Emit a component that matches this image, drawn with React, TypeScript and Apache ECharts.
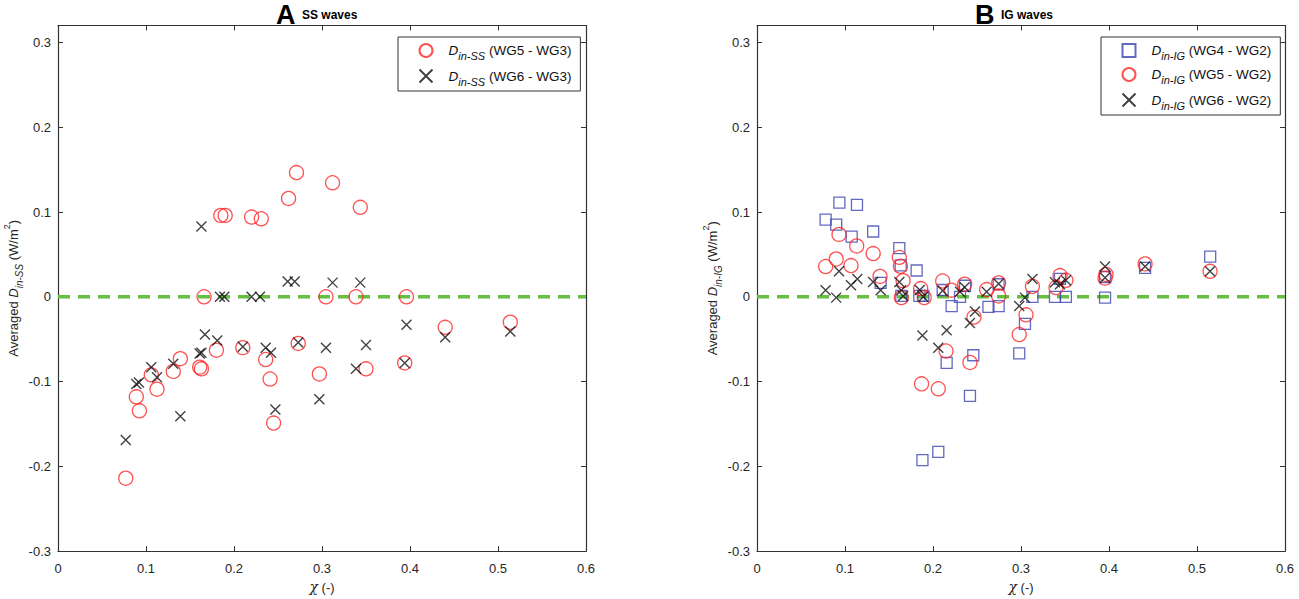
import React, { useEffect, useRef } from 'react';
import * as echarts from 'echarts';

// ---------- data ----------
const xTickValues = [0, 0.1, 0.2, 0.3, 0.4, 0.5, 0.6];
const yTickValues = [-0.3, -0.2, -0.1, 0, 0.1, 0.2, 0.3];

// Panel A: SS waves
const ssWG5: [number, number][] = [
  [0.077, -0.214], [0.089, -0.118], [0.0925, -0.1345], [0.106, -0.092], [0.1125, -0.109],
  [0.131, -0.088], [0.139, -0.073], [0.161, -0.083], [0.163, -0.085], [0.166, 0],
  [0.18, -0.063], [0.185, 0.096], [0.19, 0.096], [0.21, -0.06], [0.22, 0.094],
  [0.231, 0.092], [0.236, -0.074], [0.241, -0.097], [0.245, -0.149], [0.262, 0.116],
  [0.271, 0.1465], [0.273, -0.055], [0.297, -0.091], [0.3045, 0], [0.312, 0.1345],
  [0.3386, 0], [0.3435, 0.1055], [0.35, -0.085], [0.394, -0.078], [0.396, 0],
  [0.44, -0.036], [0.514, -0.03],
];
const ssWG6: [number, number][] = [
  [0.077, -0.169], [0.089, -0.103], [0.092, -0.101], [0.106, -0.083], [0.1125, -0.095],
  [0.131, -0.079], [0.139, -0.141], [0.161, -0.067], [0.163, -0.066], [0.163, 0.083],
  [0.167, -0.0445], [0.181, -0.0515], [0.184, 0], [0.189, 0], [0.21, -0.059],
  [0.22, 0], [0.2295, 0], [0.236, -0.06], [0.242, -0.066], [0.247, -0.133],
  [0.261, 0.018], [0.269, 0.018], [0.273, -0.054], [0.297, -0.121], [0.3045, -0.06],
  [0.312, 0.0167], [0.3386, -0.085], [0.3435, 0.0167], [0.35, -0.057], [0.394, -0.078],
  [0.396, -0.033], [0.44, -0.0477], [0.514, -0.041],
];

// Panel B: IG waves
const igWG4: [number, number][] = [
  [0.078, 0.091], [0.09, 0.085], [0.0936, 0.111], [0.1076, 0.071], [0.1136, 0.1085],
  [0.132, 0.077], [0.1405, 0.0163], [0.1617, 0.0574], [0.1633, 0.037], [0.164, 0.001],
  [0.1814, 0.031], [0.1845, 0.001], [0.189, 0.001], [0.188, -0.1926], [0.206, -0.183],
  [0.211, 0.008], [0.2155, -0.078], [0.2212, -0.011], [0.2307, 0], [0.2364, 0.013],
  [0.242, -0.117], [0.2458, -0.069], [0.263, -0.012], [0.2746, 0.0148], [0.2746, -0.011],
  [0.298, -0.0667], [0.3045, -0.032], [0.313, 0], [0.3386, 0], [0.3443, 0.021],
  [0.351, 0], [0.3955, 0.0233], [0.3955, -0.001], [0.441, 0.034], [0.515, 0.0473],
];
const igWG5: [number, number][] = [
  [0.078, 0.0357], [0.09, 0.0446], [0.0932, 0.0736], [0.1068, 0.0368], [0.1133, 0.06],
  [0.132, 0.051], [0.1398, 0.024], [0.1617, 0.0465], [0.163, 0.036], [0.166, 0.019],
  [0.164, -0.001], [0.186, 0.0097], [0.19, -0.001], [0.187, -0.1027], [0.206, -0.1085],
  [0.211, 0.0186], [0.2148, -0.064], [0.221, 0.0078], [0.236, 0.0148], [0.242, -0.0775],
  [0.2466, -0.024], [0.261, 0.0085], [0.2746, 0.0163], [0.2746, 0.001], [0.298, -0.0446],
  [0.3057, -0.0213], [0.313, 0.0124], [0.3398, 0.0108], [0.3443, 0.025], [0.351, 0.0194],
  [0.3966, 0.0264], [0.3955, 0.022], [0.441, 0.0388], [0.5148, 0.03],
];
const igWG6: [number, number][] = [
  [0.078, 0.0078], [0.09, -0.001], [0.0932, 0.03], [0.1068, 0.0136], [0.114, 0.021],
  [0.132, 0.0174], [0.1405, 0.0078], [0.1617, 0.0174], [0.164, 0.0078], [0.166, 0.001],
  [0.185, 0.008], [0.189, 0], [0.188, -0.0457], [0.206, -0.06], [0.211, 0.007],
  [0.2155, -0.0395], [0.2307, 0.006], [0.236, 0.0113], [0.242, -0.031], [0.2477, -0.0174],
  [0.261, 0.006], [0.2746, 0.0155], [0.298, -0.011], [0.3045, -0.001], [0.313, 0.021],
  [0.3386, 0.017], [0.3443, 0.0147], [0.351, 0.0194], [0.3955, 0.0357], [0.3955, 0.0225],
  [0.441, 0.0357], [0.5148, 0.03],
];

const zeroLine: [number, number][] = [[0, 0], [0.6, 0]];

const legendLabels: Record<string, string> = {
  ss5: '{w| }{i|D}{s|in-SS}{t| (WG5 - WG3)}',
  ss6: '{w| }{i|D}{s|in-SS}{t| (WG6 - WG3)}',
  ig4: '{w| }{i|D}{s|in-IG}{t| (WG4 - WG2)}',
  ig5: '{w| }{i|D}{s|in-IG}{t| (WG5 - WG2)}',
  ig6: '{w| }{i|D}{s|in-IG}{t| (WG6 - WG2)}',
};

// ---------- styling ----------
const FONT = '"Liberation Sans", Arial, sans-serif';
const AXIS = '#333333';
const TEXT = '#262626';
const RED = '#ff2424';
const BLUE = '#3a44b0';
const BLACK = '#111111';
const GREEN = '#66bf40';
const CROSS = 'path://M0 0L10 10M10 0L0 10';
const SQUARE = 'path://M0 0H10V10H0Z';

const xMin = xTickValues[0];
const xMax = xTickValues[xTickValues.length - 1];
const yMin = yTickValues[0];
const yMax = 0.32;

function tickFmt(v: number): string {
  const r = Math.round(v * 10) / 10;
  if (Math.abs(v - r) > 1e-6) return '';
  if (Math.abs(r) < 1e-9) return '0';
  return String(r);
}

const nameRich = {
  t: { fontSize: 13, fontFamily: FONT, color: TEXT, lineHeight: 22 },
  i: { fontSize: 13, fontFamily: FONT, color: TEXT, fontStyle: 'italic', lineHeight: 22 },
  s: { fontSize: 10, fontFamily: FONT, color: TEXT, fontStyle: 'italic', lineHeight: 10, verticalAlign: 'bottom' },
  p: { fontSize: 9, fontFamily: FONT, color: TEXT, lineHeight: 10, verticalAlign: 'top' },
  g: { fontSize: 14, fontFamily: '"DejaVu Serif", serif', color: TEXT, fontStyle: 'italic', lineHeight: 14 },
  x: { fontSize: 13, fontFamily: FONT, color: TEXT, lineHeight: 14 },
};

const legendRich = {
  w: { width: 11, fontSize: 13.5, lineHeight: 22 },
  t: { fontSize: 13.5, fontFamily: FONT, color: '#111', lineHeight: 22 },
  i: { fontSize: 13.5, fontFamily: FONT, color: '#111', fontStyle: 'italic', lineHeight: 22 },
  s: { fontSize: 11, fontFamily: FONT, color: '#111', fontStyle: 'italic', lineHeight: 10, verticalAlign: 'bottom' },
};

function xAxisFor(gridIndex: number, position: 'bottom' | 'top') {
  const bottom = position === 'bottom';
  return {
    type: 'value',
    gridIndex,
    position,
    min: xMin,
    max: xMax,
    interval: 0.1,
    axisLine: { show: true, onZero: false, lineStyle: { color: AXIS, width: 1.2 } },
    axisTick: { show: true, inside: true, length: 5, lineStyle: { color: AXIS, width: 1 } },
    axisLabel: bottom
      ? { show: true, margin: 11, fontSize: 13, fontFamily: FONT, color: TEXT, formatter: tickFmt }
      : { show: false },
    splitLine: { show: false },
    name: bottom ? '{g|χ}{x| (-)}' : '',
    nameLocation: 'middle',
    nameGap: 26,
    nameTextStyle: { rich: nameRich },
  };
}

function yAxisFor(gridIndex: number, position: 'left' | 'right', sub: string) {
  const left = position === 'left';
  return {
    type: 'value',
    gridIndex,
    position,
    min: yMin,
    max: yMax,
    interval: 0.1,
    axisLine: { show: true, onZero: false, lineStyle: { color: AXIS, width: 1.2 } },
    axisTick: { show: true, inside: true, length: 5, lineStyle: { color: AXIS, width: 1 } },
    axisLabel: left
      ? { show: true, margin: 7, fontSize: 13, fontFamily: FONT, color: TEXT, formatter: tickFmt }
      : { show: false },
    splitLine: { show: false },
    name: left ? `{t|Averaged }{i|D}{s|${sub}}{t| (W/m}{p|2}{t|)}` : '',
    nameLocation: 'middle',
    nameRotate: 90,
    nameGap: 34,
    nameTextStyle: { rich: nameRich },
  };
}

function circleSeries(name: string, data: [number, number][], axis: number) {
  return {
    name, type: 'scatter', xAxisIndex: axis, yAxisIndex: axis, data,
    symbol: 'circle', symbolSize: 14, z: 3,
    itemStyle: { color: 'rgba(0,0,0,0)', borderColor: RED, borderWidth: 1.3 },
  };
}
function crossSeries(name: string, data: [number, number][], axis: number) {
  return {
    name, type: 'scatter', xAxisIndex: axis, yAxisIndex: axis, data,
    symbol: CROSS, symbolSize: 10, z: 4,
    itemStyle: { color: 'none', borderColor: BLACK, borderWidth: 1.4 },
  };
}
function squareSeries(name: string, data: [number, number][], axis: number) {
  return {
    name, type: 'scatter', xAxisIndex: axis, yAxisIndex: axis, data,
    symbol: SQUARE, symbolSize: 11, z: 3,
    itemStyle: { color: 'rgba(0,0,0,0)', borderColor: BLUE, borderWidth: 1.3 },
  };
}
function zeroSeries(axis: number) {
  return {
    name: 'zero' + axis, type: 'line', xAxisIndex: axis, yAxisIndex: axis, data: zeroLine,
    symbol: 'none', silent: true, z: 1,
    lineStyle: { color: GREEN, width: 3.5, type: [12, 8] },
  };
}

function legendFor(left: number, names: string[]) {
  return {
    show: true,
    data: names,
    orient: 'vertical',
    left,
    top: 37,
    padding: [6, 9, 4, 19],
    itemWidth: 13,
    itemHeight: 13,
    itemGap: 5.5,
    selectedMode: false,
    symbolKeepAspect: false,
    borderColor: AXIS,
    borderWidth: 1,
    backgroundColor: '#ffffff',
    formatter: (n: string) => legendLabels[n] || n,
    textStyle: { fontSize: 13.5, fontFamily: FONT, color: '#111', rich: legendRich },
  };
}

function titleText(x: number, letter: string, rest: string) {
  return [
    {
      type: 'text', left: x, top: 1,
      style: { text: letter, font: `bold 27px ${FONT}`, fill: '#000' },
    },
    {
      type: 'text', left: x + 26, top: 9,
      style: { text: rest, font: `bold 12px ${FONT}`, fill: '#000' },
    },
  ];
}

const App: React.FC = () => {
  const ref = useRef<HTMLDivElement>(null);

  useEffect(() => {
    if (!ref.current) return;
    const chart = echarts.init(ref.current, undefined, { renderer: 'svg' });
    const option = {
      animation: false,
      backgroundColor: '#ffffff',
      grid: [
        { left: 58, top: 25.5, width: 528, height: 531.5, containLabel: false },
        { left: 757, top: 25.5, width: 528, height: 531.5, containLabel: false },
      ],
      xAxis: [
        xAxisFor(0, 'bottom'),
        xAxisFor(0, 'top'),
        xAxisFor(1, 'bottom'),
        xAxisFor(1, 'top'),
      ],
      yAxis: [
        yAxisFor(0, 'left', 'in-SS'),
        yAxisFor(0, 'right', ''),
        yAxisFor(1, 'left', 'in-IG'),
        yAxisFor(1, 'right', ''),
      ],
      legend: [
        legendFor(398, ['ss5', 'ss6']),
        legendFor(1101, ['ig4', 'ig5', 'ig6']),
      ],
      graphic: [...titleText(276, 'A', 'SS waves'), ...titleText(975, 'B', 'IG waves')],
      series: [
        zeroSeries(0),
        circleSeries('ss5', ssWG5, 0),
        crossSeries('ss6', ssWG6, 0),
        zeroSeries(2),
        squareSeries('ig4', igWG4, 2),
        circleSeries('ig5', igWG5, 2),
        crossSeries('ig6', igWG6, 2),
      ],
    };
    chart.setOption(option as any);
    return () => chart.dispose();
  }, []);

  return (
    <div
      ref={ref}
      style={{ position: 'fixed', left: 0, top: 0, width: 1299, height: 599, background: '#fff' }}
    />
  );
};

export default App;
